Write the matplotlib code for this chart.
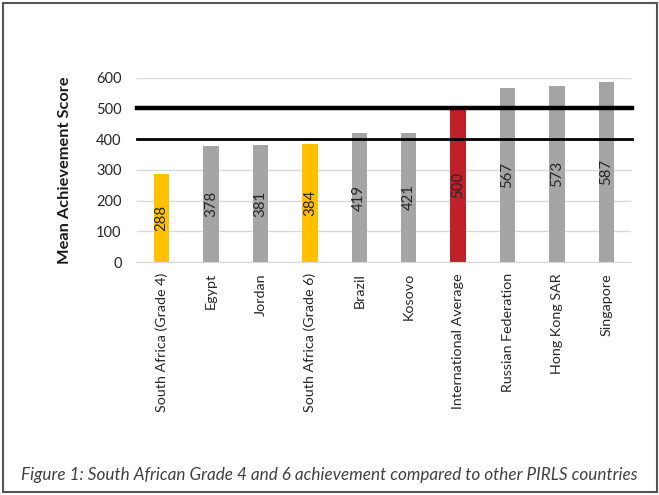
import matplotlib
matplotlib.use('Agg')
import matplotlib.pyplot as plt
from matplotlib.patches import Rectangle

# data
countries = ["South Africa (Grade 4)", "Egypt", "Jordan", "South Africa (Grade 6)",
             "Brazil", "Kosovo", "International Average", "Russian Federation",
             "Hong Kong SAR", "Singapore"]
scores = [288, 378, 381, 384, 419, 421, 500, 567, 573, 587]
groups = ["sa", "other", "other", "sa", "other", "other", "avg", "other", "other", "other"]
benchmarks = [500, 400]

palette = {"sa": "#FFC000", "other": "#A5A5A5", "avg": "#C0202A"}
plt.rcParams['font.family'] = ['Lato', 'DejaVu Sans']

fig = plt.figure(figsize=(6.59, 4.95), dpi=100)
ax = fig.add_axes([137/659, 1-262/495, 494/659, (262-77.7)/495])

x = range(len(countries))
ax.bar(x, scores, width=0.31, color=[palette[g] for g in groups], zorder=2)
for i, s in enumerate(scores):
    ax.text(i, s/2, f"{s}", rotation=90, ha="center", va="center",
            fontsize=10.8, color="#262626", zorder=3)

ax.set_xlim(-0.5, len(countries)-0.5)
ax.set_ylim(0, 600)
ax.set_yticks(range(0, 601, 100))
ax.grid(axis="y", color="#D9D9D9", linewidth=1, zorder=0)
ax.set_axisbelow(True)
for sp in ["top", "right", "left"]:
    ax.spines[sp].set_visible(False)
ax.spines["bottom"].set_color("#D9D9D9")

ax.set_xticks(list(x))
ax.set_xticklabels(countries, rotation=90, fontsize=10.3, color="#262626")
ax.tick_params(axis="x", length=0, pad=8)
ax.tick_params(axis="y", length=0, pad=11, labelsize=10.5, labelcolor="#262626")
ax.set_ylabel("Mean Achievement Score", fontsize=11.8, fontweight="bold",
              color="#1a1a1a", labelpad=17)

# benchmark lines
ax.axhline(benchmarks[0], xmin=0, xmax=1.003, color="black", linewidth=3.2,
           zorder=4, clip_on=False)
ax.axhline(benchmarks[1], xmin=0, xmax=1.003, color="black", linewidth=2,
           zorder=4, clip_on=False)

fig.text(0.5, 1-475/495, "Figure 1: South African Grade 4 and 6 achievement compared to other PIRLS countries",
         ha="center", va="center", fontsize=12.3, style="italic", color="#404040")

fig.patches.append(Rectangle((3/659, 3/495), 654/659, 489/495, transform=fig.transFigure,
                             fill=False, edgecolor="#555555", linewidth=1.5))

fig.savefig("out.png", dpi=100)
